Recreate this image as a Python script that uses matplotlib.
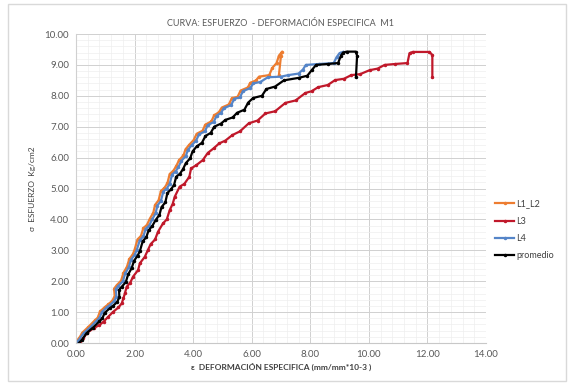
import matplotlib
matplotlib.use('Agg')
import matplotlib.pyplot as plt
import matplotlib.ticker as ticker
from matplotlib.patches import Rectangle

plt.rcParams['font.family'] = ['Lato', 'DejaVu Sans']

# (strain, stress)
l1_l2 = [(0.0, 0.05), (0.1, 0.15), (0.22, 0.34), (0.42, 0.52), (0.64, 0.73), (0.74, 0.82),
         (0.82, 1.02), (0.98, 1.16), (1.1, 1.25), (1.24, 1.37), (1.32, 1.52), (1.3, 1.76),
         (1.39, 1.87), (1.54, 2.02), (1.62, 2.27), (1.74, 2.47), (1.82, 2.72), (1.94, 2.87),
         (2.0, 3.02), (2.1, 3.35), (2.22, 3.47), (2.3, 3.72), (2.42, 3.82), (2.52, 4.02),
         (2.64, 4.22), (2.7, 4.47), (2.82, 4.62), (2.9, 4.92), (3.02, 5.02), (3.12, 5.17),
         (3.2, 5.47), (3.32, 5.57), (3.42, 5.72), (3.52, 5.92), (3.67, 6.07), (3.74, 6.27),
         (3.87, 6.42), (4.02, 6.57), (4.12, 6.77), (4.32, 6.87), (4.42, 7.07), (4.62, 7.17),
         (4.72, 7.37), (4.88, 7.47), (4.98, 7.62), (5.22, 7.72), (5.32, 7.92), (5.52, 7.97),
         (5.62, 8.17), (5.87, 8.27), (5.95, 8.42), (6.15, 8.5), (6.25, 8.62), (6.6, 8.67),
         (6.7, 8.9), (6.85, 9.06), (6.93, 9.3), (7.04, 9.43), (7.0, 9.3), (6.93, 8.67)]

l3 = [(0.13, 0.0), (0.25, 0.15), (0.37, 0.32), (0.6, 0.48), (0.8, 0.58), (0.94, 0.69),
      (1.1, 0.85), (1.27, 1.01), (1.45, 1.15), (1.56, 1.28), (1.62, 1.45), (1.67, 1.61),
      (1.73, 1.82), (1.85, 1.95), (1.95, 2.15), (2.12, 2.36), (2.18, 2.58), (2.35, 2.79),
      (2.45, 3.0), (2.55, 3.2), (2.7, 3.35), (2.8, 3.6), (2.97, 3.87), (3.1, 4.0),
      (3.2, 4.3), (3.3, 4.5), (3.37, 4.73), (3.54, 5.06), (3.7, 5.15), (3.87, 5.38),
      (3.93, 5.65), (4.1, 5.75), (4.33, 5.92), (4.5, 6.15), (4.7, 6.3), (4.89, 6.46),
      (5.1, 6.55), (5.34, 6.73), (5.6, 6.85), (5.9, 7.11), (6.2, 7.2), (6.47, 7.43),
      (6.8, 7.5), (7.15, 7.77), (7.5, 7.85), (7.83, 8.09), (8.05, 8.15), (8.27, 8.28),
      (8.6, 8.35), (8.85, 8.51), (9.15, 8.55), (9.4, 8.67), (9.7, 8.7), (10.03, 8.83),
      (10.3, 8.88), (10.54, 9.0), (10.9, 9.03), (11.32, 9.06), (11.39, 9.38), (11.5, 9.42),
      (12.07, 9.42), (12.17, 9.32), (12.17, 8.6)]

l4 = [(0.0, 0.0), (0.1, 0.1), (0.26, 0.32), (0.48, 0.5), (0.7, 0.72), (0.8, 0.8),
      (0.88, 1.0), (1.05, 1.15), (1.16, 1.23), (1.3, 1.35), (1.38, 1.5), (1.36, 1.75),
      (1.45, 1.85), (1.6, 2.0), (1.68, 2.25), (1.8, 2.45), (1.88, 2.7), (2.0, 2.85),
      (2.07, 3.0), (2.18, 3.33), (2.3, 3.45), (2.38, 3.7), (2.5, 3.8), (2.6, 4.0),
      (2.72, 4.2), (2.78, 4.45), (2.9, 4.6), (2.98, 4.9), (3.1, 5.0), (3.2, 5.15),
      (3.28, 5.45), (3.4, 5.55), (3.5, 5.7), (3.6, 5.9), (3.75, 6.05), (3.82, 6.25),
      (3.95, 6.4), (4.1, 6.55), (4.2, 6.75), (4.4, 6.85), (4.5, 7.05), (4.7, 7.15),
      (4.8, 7.35), (4.95, 7.45), (5.05, 7.6), (5.3, 7.7), (5.4, 7.9), (5.6, 7.95),
      (5.7, 8.15), (5.95, 8.25), (6.05, 8.4), (6.3, 8.45), (6.55, 8.6), (7.0, 8.62),
      (7.25, 8.67), (7.6, 8.72), (7.75, 8.85), (7.85, 9.0), (8.3, 9.03), (8.8, 9.06),
      (8.9, 9.25), (9.0, 9.38), (9.12, 9.42)]

promedio = [(0.1, 0.0), (0.2, 0.1), (0.36, 0.32), (0.58, 0.5), (0.8, 0.7), (0.9, 0.8),
            (0.98, 0.98), (1.15, 1.12), (1.26, 1.2), (1.4, 1.32), (1.48, 1.48), (1.47, 1.72),
            (1.56, 1.82), (1.7, 1.97), (1.78, 2.22), (1.9, 2.42), (1.98, 2.66), (2.1, 2.82),
            (2.18, 2.97), (2.28, 3.3), (2.4, 3.42), (2.48, 3.65), (2.6, 3.78), (2.72, 3.98),
            (2.85, 4.15), (2.92, 4.4), (3.05, 4.55), (3.12, 4.85), (3.25, 4.98), (3.35, 5.12),
            (3.42, 5.38), (3.55, 5.48), (3.65, 5.62), (3.75, 5.82), (3.9, 5.98), (3.98, 6.2),
            (4.12, 6.36), (4.3, 6.48), (4.42, 6.7), (4.6, 6.8), (4.72, 7.0), (4.95, 7.1),
            (5.1, 7.22), (5.35, 7.3), (5.5, 7.45), (5.75, 7.55), (5.88, 7.78), (6.05, 7.93),
            (6.35, 8.0), (6.5, 8.22), (6.8, 8.3), (7.1, 8.5), (7.6, 8.58), (7.9, 8.65),
            (8.05, 8.83), (8.2, 9.0), (8.6, 9.03), (8.95, 9.06), (9.05, 9.3), (9.12, 9.4),
            (9.25, 9.43), (9.55, 9.43), (9.6, 9.3), (9.56, 8.6)]

series = [('L1_L2', l1_l2, '#ED7D31'), ('L3', l3, '#C0182A'),
          ('L4', l4, '#5585C8'), ('promedio', promedio, '#000000')]

fig = plt.figure(figsize=(5.69, 3.83), dpi=100)
ax = fig.add_axes([0.1336, 0.1044, 0.7204, 0.8068])

for name, pts, color in series:
    xs = [p[0] for p in pts]
    ys = [p[1] for p in pts]
    ax.plot(xs, ys, color=color, linewidth=1.6, marker='o', markersize=1.5,
            label=name, solid_joinstyle='round')

ax.set_xlim(0, 14)
ax.set_ylim(0, 10)
ax.xaxis.set_major_locator(ticker.MultipleLocator(2))
ax.yaxis.set_major_locator(ticker.MultipleLocator(1))
ax.xaxis.set_minor_locator(ticker.AutoMinorLocator(5))
ax.yaxis.set_minor_locator(ticker.AutoMinorLocator(5))
ax.xaxis.set_major_formatter(ticker.StrMethodFormatter('{x:.2f}'))
ax.yaxis.set_major_formatter(ticker.StrMethodFormatter('{x:.2f}'))
ax.grid(which='major', color='#D0D0D0', linewidth=0.7)
ax.grid(which='minor', color='#EEEEEE', linewidth=0.5)
ax.set_axisbelow(True)
ax.tick_params(which='both', length=0, labelsize=7, colors='#595959', pad=5)
for s in ax.spines.values():
    s.set_visible(False)
ax.spines['bottom'].set_visible(True)
ax.spines['bottom'].set_color('#C8C8C8')
ax.spines['left'].set_visible(True)
ax.spines['left'].set_color('#D0D0D0')

ax.set_title('CURVA: ESFUERZO  - DEFORMACIÓN ESPECIFICA  M1', fontsize=6.5,
             color='#595959', pad=6)
ax.set_xlabel('ε  DEFORMACIÓN ESPECIFICA (mm/mm*10-3 )', fontsize=6, color='#404040',
              fontweight='bold', labelpad=3)
ax.set_ylabel('σ  ESFUERZO  Kg/cm2', fontsize=6, color='#404040', labelpad=6)

fig.legend(loc='center left', bbox_to_anchor=(0.855, 0.40), frameon=False,
           fontsize=6.5, labelcolor='#404040', handlelength=2.2, handletextpad=0.2,
           labelspacing=0.9)

fig.patches.append(Rectangle((0.014, 0.005), 0.98, 0.985, transform=fig.transFigure,
                             fill=False, edgecolor='#D9D9D9', linewidth=1))

fig.savefig('out.png', dpi=100)
